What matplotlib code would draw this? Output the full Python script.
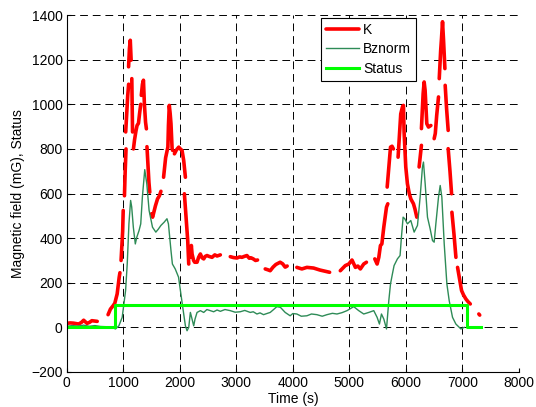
import numpy as np
import matplotlib
matplotlib.use("Agg")
import matplotlib.pyplot as plt

plt.rcParams['font.family'] = ['Liberation Sans', 'DejaVu Sans']
plt.rcParams['font.size'] = 10

# K : pieces of the curve, gaps between them
k_segs = [
    [(0, 18), (60, 20), (120, 19), (210, 15), (260, 22), (300, 32), (330, 25), (360, 18), (400, 22), (446, 30), (500, 28), (540, 27)],
    [(732, 57), (774, 82), (821, 97), (851, 108), (893, 150), (929, 225), (942, 245)],
    [(962, 300), (980, 380), (990, 430), (1000, 524)],
    [(1022, 590), (1035, 700), (1050, 800)],
    [(1044, 876), (1060, 950), (1080, 1040), (1096, 1090)],
    [(1095, 1168), (1110, 1250), (1125, 1287), (1140, 1198)],
    [(1152, 1115), (1158, 1000), (1165, 876)],
    [(1181, 800), (1200, 840), (1225, 880), (1245, 905), (1270, 915), (1290, 960), (1310, 1000)],
    [(1320, 1040), (1340, 1090), (1358, 1108), (1375, 1000), (1395, 920), (1410, 890)],
    [(1420, 810), (1440, 720), (1455, 650), (1470, 606)],
    [(1500, 509), (1520, 494), (1545, 520), (1570, 545), (1607, 576), (1640, 590), (1667, 610)],
    [(1714, 673), (1750, 760), (1790, 808), (1800, 905), (1815, 995), (1830, 960), (1845, 913), (1865, 800), (1875, 793)],
    [(1906, 778), (1940, 795), (1982, 808), (2010, 800), (2041, 793), (2070, 748), (2100, 673)],
    [(2082, 599), (2110, 500), (2141, 389), (2159, 284)],
    [(2159, 340), (2175, 359), (2188, 314), (2205, 367), (2218, 329), (2245, 300), (2265, 292), (2306, 292),
     (2335, 315), (2365, 329), (2395, 312), (2424, 307), (2450, 318), (2482, 322), (2520, 318), (2571, 314),
     (2620, 325), (2660, 320), (2718, 325)],
    [(2894, 317), (2950, 313), (3012, 311), (3060, 316), (3100, 314), (3140, 318), (3188, 322), (3230, 310),
     (3260, 312), (3300, 307), (3340, 300), (3376, 302)],
    [(3512, 262), (3560, 258), (3600, 254), (3650, 270), (3700, 282), (3776, 292), (3820, 285), (3865, 270), (3900, 275)],
    [(4071, 269), (4160, 262), (4249, 269), (4367, 266), (4480, 257), (4651, 247)],
    [(4840, 254), (4929, 277), (4990, 284), (5047, 302), (5107, 269), (5150, 275), (5195, 262), (5254, 284), (5302, 292)],
    [(5450, 307), (5491, 284), (5521, 314), (5550, 367), (5575, 374), (5609, 449), (5657, 539), (5680, 554)],
    [(5669, 629), (5698, 719), (5728, 808), (5755, 812), (5779, 800)],
    [(5862, 763), (5890, 880), (5909, 957), (5939, 988), (5957, 995), (5968, 876), (5998, 719), (6027, 644),
     (6060, 600), (6087, 576), (6134, 554), (6160, 531), (6193, 494)],
    [(6234, 719), (6255, 770), (6275, 816)],
    [(6275, 891), (6290, 970), (6305, 1048), (6323, 1100), (6340, 1063), (6370, 913), (6400, 898), (6442, 905)],
    [(6500, 846), (6520, 869), (6545, 950), (6577, 1033)],
    [(6590, 1115), (6615, 1240), (6630, 1295), (6648, 1370), (6666, 1288), (6690, 1160)],
    [(6695, 1085), (6720, 980), (6748, 883)],
    [(6748, 801), (6780, 700), (6808, 599)],
    [(6814, 516), (6850, 420), (6885, 314)],
    [(6914, 269), (6950, 215), (6985, 165), (7020, 145), (7062, 127), (7100, 115), (7139, 105)],
    [(7290, 60), (7306, 55)],
]

bz_t = [0, 100, 200, 300, 400, 500, 600, 700, 800, 863, 923, 982, 1042, 1071, 1101, 1131, 1150, 1179,
        1214, 1240, 1280, 1310, 1339, 1381, 1417, 1458, 1518, 1577, 1620, 1667, 1726, 1774, 1800, 1845,
        1870, 1920, 1979, 2020, 2070, 2100, 2129, 2159, 2188, 2210, 2247, 2270, 2306, 2365, 2424, 2480,
        2541, 2600, 2660, 2718, 2800, 2894, 2980, 3070, 3150, 3247, 3300, 3365, 3420, 3482, 3540, 3600,
        3660, 3718, 3780, 3865, 3953, 4000, 4071, 4150, 4249, 4330, 4426, 4520, 4604, 4700, 4781, 4870,
        4959, 5077, 5166, 5254, 5343, 5432, 5491, 5532, 5568, 5610, 5657, 5698, 5728, 5762, 5791, 5850,
        5897, 5921, 5951, 5980, 6027, 6087, 6146, 6205, 6252, 6293, 6311, 6341, 6382, 6429, 6471, 6500,
        6530, 6577, 6607, 6636, 6678, 6725, 6766, 6825, 6884, 6973, 7032]
bz_v = [5, 8, 6, 10, 5, 8, 4, 3, 0, -7, 7, 45, 165, 284, 464, 569, 540, 449,
        374, 404, 434, 464, 584, 707, 644, 524, 449, 427, 440, 457, 472, 487, 464, 344,
        284, 262, 225, 150, 60, 7, -15, 0, 67, 45, 7, 37, 67, 75, 67, 80,
        75, 70, 78, 72, 80, 75, 68, 70, 76, 67, 70, 60, 65, 57, 62, 67,
        80, 93, 90, 67, 52, 62, 60, 50, 52, 60, 57, 50, 57, 63, 60, 66,
        75, 93, 75, 60, 67, 75, 45, 15, 60, 37, -7, 120, 195, 240, 277, 307,
        322, 404, 494, 487, 464, 479, 427, 457, 584, 719, 741, 644, 494, 442, 389, 382,
        464, 584, 636, 584, 374, 195, 120, 45, 15, -7, 0]

st_t = [0, 863, 863, 7085, 7085, 7325]
st_v = [0, 0, 100, 100, 0, 0]

k_t, k_v = [], []
for seg in k_segs:
    for t, v in seg:
        k_t.append(t)
        k_v.append(v)
    k_t.append(np.nan)
    k_v.append(np.nan)

fig = plt.figure(figsize=(5.36, 4.07), dpi=100)
ax = fig.add_axes([0.1244, 0.086, 0.8438, 0.877])

ax.plot(k_t, k_v, color='#ff0000', lw=2.6, label='K', solid_capstyle='round')
ax.plot(bz_t, bz_v, color='#2e8b57', lw=1.0, label='Bznorm')
ax.plot(st_t, st_v, color='#00ff00', lw=2.2, label='Status')

ax.set_xlim(0, 8000)
ax.set_ylim(-200, 1400)
ax.set_xticks(np.arange(0, 8001, 1000))
ax.set_yticks(np.arange(-200, 1401, 200))
ax.grid(True, color='k', ls=(0, (8, 5)), lw=0.7)
ax.set_axisbelow(True)
ax.spines['top'].set_visible(False)
ax.spines['right'].set_visible(False)
ax.tick_params(direction='in', length=3, width=0.8, pad=3, labelsize=10)

ax.set_xlabel('Time (s)', labelpad=1)
ax.set_ylabel('Magnetic field (mG), Status', labelpad=4)

leg = ax.legend(loc='upper left', bbox_to_anchor=(0.5616, 0.992), fancybox=False,
                framealpha=1, edgecolor='k', borderaxespad=0, handlelength=2.4,
                handletextpad=0.3, labelspacing=0.4, borderpad=0.35)
leg.get_frame().set_linewidth(0.8)

fig.savefig('out.png', dpi=100)
